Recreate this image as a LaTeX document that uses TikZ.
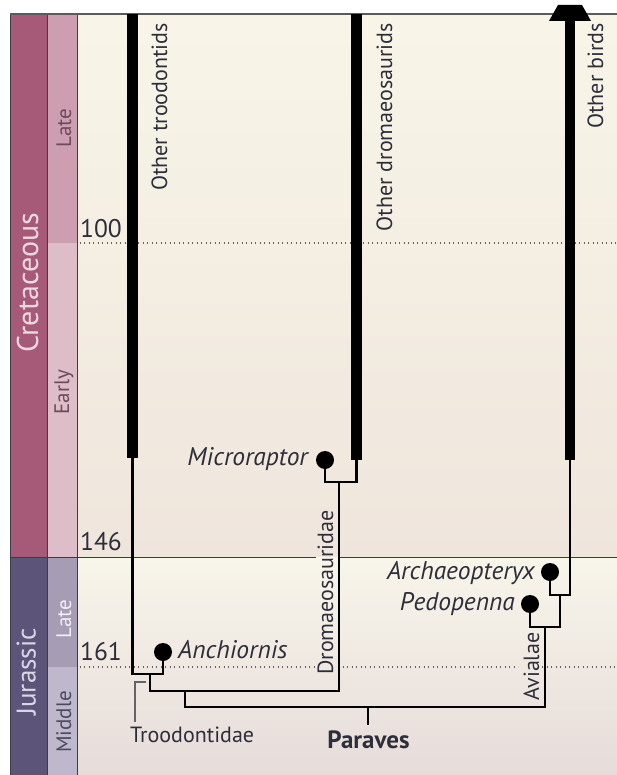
\documentclass[tikz,border=0pt]{standalone}
\usepackage{fontspec}
\setmainfont{PT Sans}
\definecolor{cretP}{HTML}{A65A78}
\definecolor{cretLate}{HTML}{CC9EB0}
\definecolor{cretEarly}{HTML}{DDBDC7}
\definecolor{jurP}{HTML}{5D5479}
\definecolor{jurLate}{HTML}{A69DB4}
\definecolor{jurMid}{HTML}{BFB8CC}
\definecolor{bgTop}{HTML}{F8F5E8}
\definecolor{bgCretBot}{HTML}{EFE5DC}
\definecolor{bgJurTop}{HTML}{F8F5EA}
\definecolor{bgJurBot}{HTML}{E6DCDA}
\definecolor{txtDark}{HTML}{2E2E3A}
\definecolor{cretTxt}{HTML}{EFD7E0}
\definecolor{jurTxt}{HTML}{DCD7E8}
\definecolor{epDarkA}{HTML}{6B4A5C}
\definecolor{epDarkB}{HTML}{4D4A5E}
\definecolor{epLight}{HTML}{F2F0F6}
\definecolor{gridcol}{HTML}{3C3C44}
\begin{document}
\begin{tikzpicture}[x=1pt,y=1pt,
  branch/.style={line width=2.2pt, line join=miter, black},
  lineage/.style={line width=10.5pt, black},
  tipdot/.style={circle, fill=black, inner sep=0pt, minimum size=18pt},
  taxon/.style={inner sep=0pt, text=txtDark, font=\fontsize{25.5}{25.5}\selectfont\itshape},
  cladelab/.style={inner sep=0pt, text=txtDark, font=\fontsize{22}{22}\selectfont},
  agelab/.style={inner sep=0pt, text=txtDark, font=\fontsize{25.5}{25.5}\selectfont, anchor=base west},
  barline/.style={draw=gridcol, line width=1pt},
  dotline/.style={draw=gridcol!80, line width=1.3pt, dash pattern=on 1.3pt off 3.2pt},
  periodlab/.style={inner sep=0pt, rotate=90, anchor=base},
  epochlab/.style={inner sep=0pt, rotate=90, anchor=base, font=\fontsize{21}{21}\selectfont},
  vlab/.style={inner sep=0pt, rotate=90, text=txtDark, font=\fontsize{22}{22}\selectfont}
]
\useasboundingbox (0,0) rectangle (617,-775);
% backgrounds
\shade[top color=bgTop, bottom color=bgCretBot] (77,-14) rectangle (617,-557);
\shade[top color=bgJurTop, bottom color=bgJurBot] (77,-557) rectangle (617,-775);
% time lines
\draw[dotline] (48,-243) -- (617,-243);
\draw[dotline] (48,-667) -- (315,-667);
\draw[dotline] (338,-667) -- (518,-667);
\draw[dotline] (542,-667) -- (617,-667);
\draw[gridcol, line width=1pt] (77,-557) -- (316,-557);
\draw[gridcol, line width=1pt] (339,-557) -- (617,-557);
% bars
\draw[barline, fill=cretP] (10,-14) rectangle (47.5,-557);
\draw[barline, fill=jurP] (10,-557) rectangle (47.5,-775);
\fill[cretLate] (47.5,-14) rectangle (77,-243);
\fill[cretEarly] (47.5,-243) rectangle (77,-557);
\fill[jurLate] (47.5,-557) rectangle (77,-667);
\fill[jurMid] (47.5,-667) rectangle (77,-775);
\draw[barline] (47.5,-14) rectangle (77,-557);
\draw[barline] (47.5,-557) rectangle (77,-775);
\draw[gridcol!85, line width=1.2pt] (10,-14) -- (617,-14);
% bar labels
\node[periodlab, text=cretTxt, font=\fontsize{30}{30}\selectfont] (cret) at (38,-283) {Cretaceous};
\node[periodlab, text=jurTxt, font=\fontsize{27}{27}\selectfont] (jur) at (35.5,-672) {Jurassic};
\node[epochlab, text=epDarkA] (late1) at (71,-128) {Late};
\node[epochlab, text=epDarkA] (early) at (69,-392) {Early};
\node[epochlab, text=epLight] (late2) at (71,-619) {Late};
\node[epochlab, text=epDarkB] (middle) at (71,-722) {Middle};
% ages
\node[agelab] (a100) at (80,-238) {100};
\node[agelab] (a146) at (80,-550) {146};
\node[agelab] (a161) at (80,-660) {161};
% lineage coordinates
\coordinate (tTop) at (132.5,-14);
\coordinate (tBot) at (132.5,-458);
\coordinate (dTop) at (356.5,-14);
\coordinate (dBot) at (356.5,-460);
\coordinate (bTop) at (570,-20);
\coordinate (bBot) at (570,-460);
\coordinate (trooJ) at (150,-674);
\coordinate (dromJ) at (339,-482);
\coordinate (deinJ) at (185,-691);
\coordinate (parJ) at (368,-707);
\coordinate (parTick) at (368,-725);
\coordinate (avJ) at (545,-627);
\coordinate (apJ) at (560,-595);
% thick lineages
\draw[lineage] (tTop) -- (tBot);
\draw[lineage] (dTop) -- (dBot);
\draw[lineage] (bTop) -- (bBot);
\fill[black] (549,-21) -- (591,-21) -- (582,-5) -- (558,-5) -- cycle;
% tips
\node[tipdot] (anc) at (163,-652) {};
\node[tipdot] (mic) at (325,-460) {};
\node[tipdot] (arc) at (550,-572) {};
\node[tipdot] (ped) at (530,-604) {};
% branches
\draw[branch] (tBot) |- (trooJ) -| (anc.center);
\draw[branch] (dBot) |- (dromJ) -| (mic.center);
\draw[branch] (trooJ) |- (deinJ) -| (dromJ);
\draw[branch] (deinJ) |- (parJ) -| (avJ);
\draw[branch] (avJ) -| (ped.center);
\draw[branch] (avJ) -| (apJ);
\draw[branch] (apJ) -| (arc.center);
\draw[branch] (apJ) -| (bBot);
\draw[branch] (parJ) -- (parTick);
% Troodontidae bracket
\draw[gridcol!80, line width=1.1pt] (146,-682) -- (135,-682) -- (135,-722);
% taxon labels
\node[taxon, anchor=base west] (lanc) at (178,-658) {Anchiornis};
\node[taxon, anchor=base east] (lmic) at (308,-465) {Microraptor};
\node[taxon, anchor=base east] (larc) at (535,-579) {Archaeopteryx};
\node[taxon, anchor=base east] (lped) at (515,-610) {Pedopenna};
\node[cladelab, anchor=base west] (ltroo) at (130,-742) {Troodontidae};
\node[cladelab, anchor=base, font=\fontsize{25}{25}\selectfont\bfseries] (lpar) at (368.5,-748) {Paraves};
\node[vlab, anchor=base east] (lot) at (167,-23) {Other troodontids};
\node[vlab, anchor=base east] (lod) at (392,-23) {Other dromaeosaurids};
\node[vlab, anchor=base east] (lob) at (603,-23) {Other birds};
\node[vlab, anchor=base] (ldrom) at (333,-592.5) {Dromaeosauridae};
\node[vlab, anchor=base] (lavi) at (539,-666.5) {Avialae};
\end{tikzpicture}
\end{document}
